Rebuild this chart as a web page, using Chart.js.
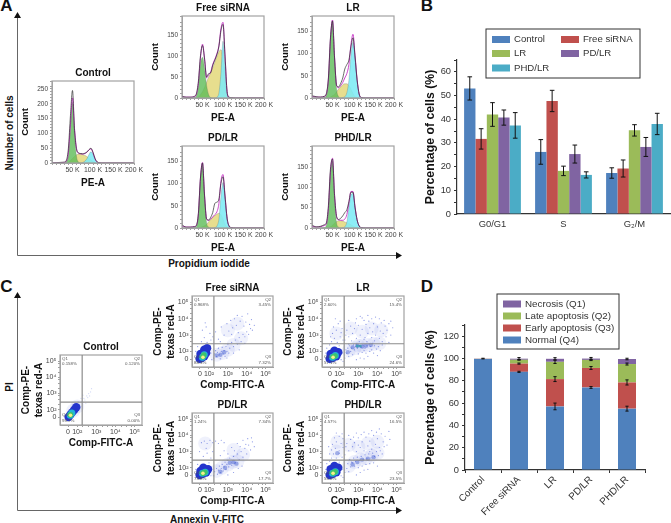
<!DOCTYPE html>
<html>
<head>
<meta charset="utf-8">
<style>
  html, body { margin: 0; padding: 0; background: #fff; }
  body { position: relative; width: 671px; height: 523px; overflow: hidden; font-family: "Liberation Sans", Arial, sans-serif; }
  canvas { position: absolute; }
  .lbl { position: absolute; transform: translate(-50%, -50%); white-space: nowrap; font-weight: bold; color: #111; }
  svg { position: absolute; left: 0; top: 0; }
</style>
<script src="https://cdn.jsdelivr.net/npm/chart.js@4"></script>
</head>
<body>
<svg width="671" height="523">
  <path d="M17.5 255.5V16M17.5 255.5H397" fill="none" stroke="#666" stroke-width="1"/>
  <path d="M17.5 12l-3.5 6h7zM402 255.5l-6-3.5v7z" fill="#111"/>
  <path d="M17.5 510.5V296M17.5 510.5H397" fill="none" stroke="#666" stroke-width="1"/>
  <path d="M17.5 292l-3.5 6h7zM402 510.5l-6-3.5v7z" fill="#111"/>
</svg>
<script>
// panel labels and the long axis captions
const captions = [
    ['A', 6.5, 6, 17, 0], ['B', 427, 6, 17, 0], ['C', 6.5, 287, 17, 0], ['D', 427, 287, 17, 0],
    ['Number of cells', 9, 133, 10, -90], ['Propidium iodide', 209, 263, 10, 0],
    ['PI', 8.5, 387, 10, -90], ['Annexin V-FITC', 207, 519, 10, 0]
];

// Cell cycle bars (panel B)
const cycleLabels = ['G0/G1', 'S', 'G\u2082/M'];
const cycleNames = ['Control', 'Free siRNA', 'LR', 'PD/LR', 'PHD/LR'];
const cycleControl = [53, 26.2, 17.3];
const cycleFree = [31.7, 47.7, 19.2];
const cycleLR = [42, 18.2, 35.3];
const cyclePD = [40.7, 25.3, 28.3];
const cyclePHD = [37.4, 16.5, 38];
const cycleControlErr = [4.9, 5.2, 2.2];
const cycleFreeErr = [4.3, 4.5, 3.6];
const cycleLRErr = [5, 2, 2.4];
const cyclePDErr = [3.2, 3.8, 4];
const cyclePHDErr = [5.4, 1.3, 4.5];

// Apoptosis stacks (panel D)
const apoLabels = ['Control', 'Free siRNA', 'LR', 'PD/LR', 'PHD/LR'];
const apoNormal = [99.5, 88, 57, 74, 55];
const apoEarly = [0.1, 7.4, 24.5, 17.5, 23.5];
const apoLate = [0.1, 3.4, 15.5, 7.2, 16.5];
const apoNecrosis = [0.2, 1, 2.7, 1.2, 4.5];
const apoNormalErr = [0, 0.5, 3, 0.8, 2.2];
const apoEarlyErr = [0, 0.5, 2.2, 1.3, 2.3];
const apoLateErr = [0, 0.3, 1.5, 0.6, 0.9];
const apoNecrosisErr = [0.3, 1, 1, 1, 0.7];

// Histograms (panel A): all series share this x grid, in thousands
const xGrid = [0,10,20,30,35,40,45,50,55,60,65,70,75,80,85,90,95,100,105,110,115,120,130,200];
const controlG1 = [0,0,0,0,4,30,120,205,90,20,3,0,0,0,0,0,0,0,0,0,0,0,0,0];
const controlS = [0,0,0,0,0,2,8,15,22,28,30,30,28,26,22,16,10,5,2,0,0,0,0,0];
const controlG2 = [0,0,0,0,0,0,0,0,0,0,0,0,2,6,14,28,38,30,12,3,0,0,0,0];
const controlFit = [0,1,1,2,6,35,130,220,115,48,33,31,30,32,36,44,48,35,14,3,1,0,0,0];
const controlRaw = [0,1,2,3,9,50,160,245,110,45,34,32,31,33,37,45,50,36,15,4,1,0,0,0];
const freeG1 = [0,0,0,1,5,30,80,97,70,30,8,1,0,0,0,0,0,0,0,0,0,0,0,0];
const freeS = [0,0,0,0,0,2,8,15,25,38,50,60,72,85,98,110,115,90,30,5,0,0,0,0];
const freeG2 = [0,0,0,0,0,0,0,0,0,0,0,0,0,0,2,12,60,135,70,10,1,0,0,0];
const freeFit = [3,2,2,3,8,35,95,128,95,48,55,62,80,92,105,125,165,180,100,15,1,0,0,0];
const freeRaw = [4,2,2,4,10,40,100,125,92,50,58,60,78,90,103,122,160,175,98,15,2,1,0,0];
const lrG1 = [0,0,0,1,6,40,130,172,90,20,3,0,0,0,0,0,0,0,0,0,0,0,0,0];
const lrS = [0,0,0,0,0,0,2,5,8,14,20,25,30,32,32,28,20,10,3,0,0,0,0,0];
const lrG2 = [0,0,0,0,0,0,0,0,0,0,0,0,1,3,12,40,95,125,90,40,8,1,0,0];
const lrFit = [4,2,2,3,8,42,132,175,92,28,23,28,35,45,55,75,120,143,95,42,9,1,0,0];
const lrRaw = [5,3,2,4,10,45,135,173,90,28,25,33,45,65,75,85,115,135,92,40,9,1,0,0];
const pdG1 = [0,0,0,1,3,30,110,145,70,12,2,0,0,0,0,0,0,0,0,0,0,0,0,0];
const pdS = [0,0,0,0,0,0,1,3,5,8,14,19,24,28,31,33,30,20,8,2,0,0,0,0];
const pdG2 = [0,0,0,0,0,0,0,0,0,0,0,0,0,1,4,20,70,102,65,20,4,0,0,0];
const pdFit = [5,2,2,3,5,32,112,147,74,20,17,20,25,30,36,55,105,120,72,22,4,1,0,0];
const pdRaw = [7,2,2,3,6,33,112,146,72,20,18,24,35,55,58,65,100,115,70,22,4,1,0,0];
const phdG1 = [0,0,0,1,6,45,135,165,70,12,2,0,0,0,0,0,0,0,0,0,0,0,0,0];
const phdS = [0,0,0,0,0,1,3,7,12,16,18,18,17,15,13,11,8,5,2,0,0,0,0,0];
const phdG2 = [0,0,0,0,0,0,0,0,0,0,0,0,1,3,15,50,82,85,50,20,5,1,0,0];
const phdFit = [5,2,3,6,10,48,138,172,82,28,20,19,19,22,33,62,90,90,52,20,5,1,0,0];
const phdRaw = [7,3,4,8,13,55,145,170,80,28,21,24,30,38,45,65,88,88,50,20,5,1,0,0];

// Flow plots (panel C): positions are in decades on the biexponential axes
const scatterTicks = [1.52,2,2.3,2.6,2.85,3,3.3,3.6,3.85,4,4.3,4.6,4.85,5];
const scatterTickLabels = ['0','10\u00b2','','','','10\u00b3','','','','10\u2074','','','','10\u2075'];
const gateX = 2.26, gateY = 2.47;

const controlQuad = ['0.158%', '0.120%', '0.00%', '99.7%'];
const freeQuad = ['0.968%', '3.45%', '7.32%', '88.3%'];
const lrQuad = ['2.60%', '15.4%', '24.6%', '57.1%'];
const pdQuad = ['1.24%', '7.34%', '17.7%', '73.8%'];
const phdQuad = ['4.57%', '16.5%', '23.5%', '55.0%'];

const controlCloud = [[2,2.2],[2.1,2.35],[2.2,2.2],[2.25,2.5],[2.3,2.45],[2.35,2.7],[2.4,2.6],[2.5,2.85],[2.55,2.75],[2.6,3],[2.7,3.1],[2.75,3.3],[2.15,2.05],[2.05,2.5],[2.3,2.9],[1.9,2.45],[2.45,2.4],[2.2,2.7],[2.65,2.85]];
const freeCloud = [[2.25,1.6],[2.3,1.85],[2.35,2.05],[2.4,1.7],[2.45,1.95],[2.5,2.2],[2.55,1.8],[2.6,1.55],[2.65,2],[2.7,2.25],[2.75,1.85],[2.8,2.05],[2.85,1.7],[2.9,2.3],[2.95,2],[3,2.45],[3.05,1.9],[3.1,2.2],[3.2,2.55],[3.3,2.3],[3.4,2.7],[3.5,2.45],[3.6,2.85],[3.7,2.6],[3.8,3.05],[3.9,2.9],[4,3.2],[4.1,3.05],[4.2,3.4],[4.3,3.3],[2.2,2.9],[2.35,3.2],[2.5,2.75],[2.65,3.5],[2.8,3],[2.95,3.7],[3.05,3.25],[3.15,3.9],[3.25,3.45],[3.35,4],[3.45,3.6],[3.5,4.2],[3.55,3.15],[3.65,3.85],[3.75,4.15],[3.85,3.55],[3.95,3.8],[4.05,4.3],[4.15,3.65],[4.25,3.95],[4.4,3.6],[3.2,3.05],[2.6,2.6],[1.6,2.6],[1.75,2.85],[1.9,2.55],[2.05,3.1],[1.65,3.3],[1.85,3.5],[2.1,2.7],[1.8,3.75],[2.15,1.5],[2.1,1.9],[1.3,2],[1.4,2.3],[2.05,2.3],[3.3,1.9],[3.6,2.1],[2.95,1.6],[3.9,2.5]];
const lrCloud = [[2.3,1.6],[2.4,1.9],[2.5,1.7],[2.6,2],[2.7,1.8],[2.8,2.1],[2.45,2.2],[2.55,2.35],[2.65,2.2],[2.75,2.4],[2.85,2.3],[2.95,2.2],[3.05,2.35],[3.15,2.25],[3.25,2.4],[3.35,2.2],[3.45,2.35],[3.55,2.45],[3.65,2.3],[3.75,2.5],[3.85,2.35],[3.95,2.15],[4.05,2.3],[4.15,2.05],[4.25,2.4],[3,1.85],[3.2,1.95],[3.4,1.9],[3.6,2],[3.8,1.9],[3.1,1.6],[3.3,1.55],[3.5,1.7],[2.9,1.5],[4,1.75],[2.35,2.1],[2.5,2.45],[2.9,2.45],[3.3,2.05],[3.7,2.1],[2.3,2.7],[2.5,2.9],[2.7,3.1],[2.9,2.8],[3.1,3],[3.3,2.75],[3.5,3.1],[3.7,2.85],[3.9,3],[4.1,2.8],[4.3,3.1],[4.5,3.3],[4.7,3],[2.4,3.3],[2.6,3.55],[2.8,3.4],[3,3.6],[3.2,3.35],[3.4,3.65],[3.6,3.45],[3.8,3.7],[4,3.5],[4.2,3.75],[4.4,3.55],[4.6,3.7],[4.8,3.45],[2.5,3.9],[2.9,4],[3.1,4.15],[3.3,3.9],[3.5,4.2],[3.7,4],[3.9,4.1],[4.1,4],[2.35,3],[2.65,2.65],[3.05,2.6],[3.45,2.6],[3.85,2.65],[4.25,2.6],[4.6,2.55],[1.6,2.6],[1.75,2.8],[1.9,2.55],[2.05,2.9],[1.65,3.1],[1.85,3.3],[2.1,3.15],[1.7,3.5],[1.95,3.7],[2.15,3.4],[1.8,4],[2.05,3.85],[1.55,2.9],[2.2,2.7],[2.1,1.5],[2.15,1.9],[2.2,1.4],[2,2.35],[1.3,1.9],[1.35,2.2],[1.5,2.4],[3.35,2.85],[3.75,3.2],[4.15,3.25],[4.45,2.9],[2.85,3.75],[3.2,4.05],[3.55,3.85],[4.35,3.9],[4.7,3.85]];
const pdCloud = [[2.25,1.5],[2.3,1.75],[2.4,1.95],[2.45,1.6],[2.5,1.85],[2.55,2.1],[2.6,1.7],[2.65,1.95],[2.7,2.2],[2.75,1.8],[2.8,2.05],[2.85,2.35],[2.9,1.9],[2.95,2.2],[3,2.45],[3.05,2.05],[3.1,2.6],[3.2,2.15],[3.3,2.7],[3.4,2.3],[3.5,2.85],[3.6,2.5],[3.7,3],[3.8,2.65],[3.9,3.2],[4,2.85],[4.1,3.4],[4.2,3.1],[4.3,3.6],[4.4,3.3],[3.55,1.95],[3.75,2.1],[3.3,1.7],[3,1.55],[2.6,2.75],[2.8,3.05],[3,2.85],[3.2,3.25],[3.35,3.05],[3.5,3.5],[3.65,3.3],[3.8,3.7],[3.95,3.45],[4.05,3.8],[4.25,3.85],[1.6,3.55],[1.75,3.65],[1.9,3.5],[2.05,3.7],[2.2,3.55],[2.35,3.65],[2.5,3.5],[2.65,3.7],[2.8,3.55],[1.7,2.7],[1.9,2.9],[2.1,2.6],[2.2,3],[1.5,3],[1.85,3.2],[2.1,1.5],[2.1,1.95],[1.3,1.9],[1.4,2.2],[2,2.3]];
const phdCloud = [[2.3,1.7],[2.4,1.95],[2.5,1.75],[2.6,2.05],[2.7,2.3],[2.8,2.1],[2.45,2.25],[2.55,2.5],[2.65,2.35],[2.75,2.6],[2.85,2.4],[2.95,2.65],[3.05,2.45],[3.15,2.7],[3.25,2.5],[3.35,2.8],[3.45,2.55],[3.55,2.85],[3.65,2.6],[3.75,2.9],[3.85,2.7],[3.95,3],[4.05,2.75],[4.15,3.05],[4.25,2.85],[3,2],[3.2,2.1],[3.4,2.2],[3.6,2.25],[3.8,2.3],[3.1,1.7],[3.3,1.85],[3.5,1.9],[2.9,1.55],[4,2.1],[2.3,2.8],[2.5,3.05],[2.7,3.3],[2.9,3],[3.1,3.25],[3.3,3.05],[3.5,3.35],[3.7,3.15],[3.9,3.45],[4.1,3.25],[4.3,3.6],[4.5,3.4],[4.65,3.75],[2.4,3.5],[2.6,3.75],[2.8,3.55],[3,3.85],[3.2,3.6],[3.4,3.9],[3.6,3.65],[3.8,4],[4,3.8],[4.2,4.1],[4.4,3.95],[4.6,4.25],[2.5,4],[2.9,4.15],[3.3,4.2],[3.7,4.3],[4.1,4.4],[1.6,2.6],[1.7,2.85],[1.85,2.6],[2,2.9],[2.15,2.65],[1.6,3.1],[1.8,3.2],[2,3.05],[2.2,3.25],[1.65,3.45],[1.85,3.6],[2.1,3.5],[1.75,3.85],[2,3.95],[2.2,3.8],[1.85,4.15],[2.15,4.1],[1.5,2.85],[1.45,3.3],[2.1,1.5],[2.15,1.9],[2.2,1.4],[2,2.35],[1.3,1.9],[1.35,2.25],[1.5,2.4],[2.35,3.3],[2.75,3.9],[3.15,4.05],[3.55,4.1],[3.95,4.2],[4.35,3.3],[3.6,3],[3,3.4]];

// soft blue haze under the dots where cells crowd together
const controlHaze = [[1.8,1.95],[2,2.2]];
const freeHaze = [[2.4,1.8],[2.7,1.9],[3,2.1],[3.3,2.4],[3.7,2.8],[3,3.3],[3.5,3.7]];
const lrHaze = [[2.5,2.05],[2.8,2.2],[3,2.35],[3.2,2.35],[3.5,2.4],[3.8,2.45],[4.1,2.5],[3.2,3.2],[3.7,3.4],[4.2,3.3],[2.6,3.4],[1.85,3.1]];
const pdHaze = [[2.4,1.8],[2.7,2],[3,2.2],[3.25,2.35],[3.5,2.4],[3.8,2.8],[3.3,3.1],[1.8,3.5]];
const phdHaze = [[2.5,2.1],[2.8,2.35],[3.1,2.5],[3.4,2.6],[3.7,2.75],[4,2.9],[3,3.3],[3.5,3.5],[4,3.6],[2.5,3.4],[1.85,3],[1.9,3.6]];

// denser second population along the lower band
const controlBand = [];
const freeBand = [[2.4,1.75],[2.6,1.8],[2.8,1.95]];
const lrBand = [[2.7,2.25],[2.95,2.35],[3.2,2.3],[3.4,2.35],[3.65,2.4],[2.45,1.95]];
const pdBand = [[2.6,1.75],[3.1,2.3],[3.3,2.35],[3.45,2.25],[2.85,2]];
const phdBand = [[2.7,2.2],[3.2,2.5],[3.5,2.55],[3.8,2.65],[2.95,2.35],[1.9,2.9]];
const controlBandMid = [];
const freeBandMid = [];
const lrBandMid = [[2.95,2.33],[3.1,2.33]];
const pdBandMid = [];
const phdBandMid = [];

// density core of the main population, one list per colour band
const controlCore = { blue: [[1.55,1.55],[1.65,1.7],[1.75,1.85],[1.85,2],[1.95,2.15]], cyan: [[1.63,1.65],[1.72,1.8]], green: [[1.65,1.68]], yellow: [[1.65,1.65]] };
const freeCore = { blue: [[1.5,1.55],[1.62,1.6],[1.75,1.7],[1.85,1.9],[1.75,2.1],[1.9,2.2],[1.55,1.85]], cyan: [[1.65,1.65],[1.75,1.8]], green: [[1.68,1.68],[1.72,1.78]], yellow: [[1.68,1.65]] };
const lrCore = { blue: [[1.5,1.55],[1.65,1.6],[1.85,1.7],[1.95,1.95],[1.75,2.05],[1.55,1.85]], cyan: [[1.65,1.65],[1.8,1.75]], green: [[1.68,1.68],[1.78,1.72]], yellow: [[1.68,1.65]] };
const pdCore = { blue: [[1.5,1.55],[1.65,1.6],[1.85,1.7],[1.95,1.9],[1.7,2],[1.55,1.8]], cyan: [[1.65,1.65],[1.8,1.72]], green: [[1.68,1.66],[1.78,1.72]], yellow: [[1.68,1.65]] };
const phdCore = { blue: [[1.5,1.55],[1.65,1.6],[1.85,1.72],[1.95,2],[1.75,2.1],[1.55,1.9]], cyan: [[1.65,1.65],[1.8,1.75]], green: [[1.68,1.68],[1.78,1.74]], yellow: [[1.68,1.65]] };

Chart.defaults.font.family = '"Liberation Sans", Arial, sans-serif';
Chart.defaults.animation = false;
Chart.defaults.responsive = false;
Chart.defaults.maintainAspectRatio = false;

captions.forEach(c => {
    const d = document.createElement('div');
    d.className = 'lbl';
    d.textContent = c[0];
    d.style.left = c[1] + 'px';
    d.style.top = c[2] + 'px';
    d.style.fontSize = c[3] + 'px';
    if (c[4]) d.style.transform = 'translate(-50%, -50%) rotate(' + c[4] + 'deg)';
    document.body.appendChild(d);
});

function addCanvas(left, top, width, height) {
    const cv = document.createElement('canvas');
    cv.width = width;
    cv.height = height;
    cv.style.left = left + 'px';
    cv.style.top = top + 'px';
    cv.style.width = width + 'px';
    cv.style.height = height + 'px';
    document.body.appendChild(cv);
    return cv;
}

// grey frame round the small cytometer plots
const framePlugin = {
    id: 'frame',
    afterDraw(chart) {
        const a = chart.chartArea, ctx = chart.ctx;
        ctx.save();
        ctx.strokeStyle = '#a2a2a2';
        ctx.lineWidth = 1.2;
        ctx.strokeRect(a.left, a.top, a.right - a.left, a.bottom - a.top);
        ctx.restore();
    }
};

function histogram(box, title, yMax, g1, s, g2, fit, raw) {
    const [x0, y0, x1, y1] = box;
    const ml = 32, mr = 13, mt = 14, mb = 26;
    const cv = addCanvas(x0 - ml, y0 - mt, x1 - x0 + ml + mr, y1 - y0 + mt + mb);
    const points = vals => xGrid.map((x, i) => ({ x: x, y: vals[i] }));
    const line = (vals, colour, width) => ({
        data: points(vals), borderColor: colour, borderWidth: width, pointRadius: 0,
        cubicInterpolationMode: 'monotone', fill: false
    });
    const area = (vals, colour) => ({
        data: points(vals), borderColor: 'rgba(90,90,90,0.5)', borderWidth: 0.5, pointRadius: 0,
        backgroundColor: colour, cubicInterpolationMode: 'monotone', fill: 'origin'
    });
    new Chart(cv, {
        type: 'line',
        data: {
            datasets: [
                line(raw, '#2b2b2b', 0.7),
                line(fit, '#c42fc4', 0.9),
                area(g1, 'rgba(92,188,88,0.8)'),
                area(g2, 'rgba(125,235,245,0.88)'),
                area(s, 'rgba(228,218,130,0.9)')
            ]
        },
        options: {
            layout: { padding: { right: mr } },
            plugins: {
                legend: { display: false },
                tooltip: { enabled: false },
                title: {
                    display: true, text: title, color: '#111', fullSize: false,
                    font: { size: 10, weight: 'bold', lineHeight: 1.2 },
                    padding: { top: 0, bottom: 2 }
                }
            },
            scales: {
                x: {
                    type: 'linear', min: 0, max: 200,
                    afterFit: sc => { sc.height = mb; },
                    grid: { drawOnChartArea: false, tickLength: 2, color: '#777', tickWidth: 0.7 },
                    border: { color: '#a2a2a2' },
                    ticks: {
                        stepSize: 10, autoSkip: false, maxRotation: 0, padding: 1, color: '#444', font: { size: 6.9 },
                        callback: v => (v > 0 && v % 50 === 0 ? v + ' K' : '')
                    },
                    title: { display: true, text: 'PE-A', color: '#111', padding: 0, font: { size: 10, weight: 'bold', lineHeight: 1.2 } }
                },
                y: {
                    min: 0, max: yMax,
                    afterFit: sc => { sc.width = ml; },
                    grid: { drawOnChartArea: false, tickLength: 2, color: '#777', tickWidth: 0.7 },
                    border: { color: '#a2a2a2' },
                    ticks: {
                        stepSize: 10, autoSkip: false, padding: 2, color: '#444', font: { size: 6.5 },
                        callback: v => (v % 50 === 0 ? v : '')
                    },
                    title: { display: true, text: 'Count', color: '#111', padding: 0, font: { size: 9.6, weight: 'bold', lineHeight: 1.2 } }
                }
            }
        },
        plugins: [framePlugin]
    });
}

// gate lines and the tiny quadrant captions
const gatePlugin = {
    id: 'gates',
    afterDraw(chart, args, opts) {
        const a = chart.chartArea, ctx = chart.ctx;
        const gx = chart.scales.x.getPixelForValue(gateX), gy = chart.scales.y.getPixelForValue(gateY);
        ctx.save();
        ctx.strokeStyle = '#8c8c8c';
        ctx.lineWidth = 1.2;
        ctx.beginPath();
        ctx.moveTo(gx, a.top); ctx.lineTo(gx, a.bottom);
        ctx.moveTo(a.left, gy); ctx.lineTo(a.right, gy);
        ctx.stroke();
        ctx.fillStyle = '#555';
        ctx.font = '4.4px "Liberation Sans"';
        const q = opts.quad;
        ctx.textBaseline = 'top';
        ctx.textAlign = 'left';
        ctx.fillText('Q1', a.left + 2, a.top + 2);
        ctx.fillText(q[0], a.left + 2, a.top + 7);
        ctx.fillText('Q4', a.left + 2, a.bottom - 12);
        ctx.fillText(q[3], a.left + 2, a.bottom - 6);
        ctx.textAlign = 'right';
        ctx.fillText('Q2', a.right - 2, a.top + 2);
        ctx.fillText(q[1], a.right - 2, a.top + 7);
        ctx.fillText('Q3', a.right - 2, a.bottom - 12);
        ctx.fillText(q[2], a.right - 2, a.bottom - 6);
        ctx.restore();
    }
};

function flowPlot(box, title, quad, cloud, haze, band, bandMid, core, dotColour) {
    const [x0, y0, x1, y1] = box;
    const ml = 40, mr = 6, mt = 14, mb = 24;
    const cv = addCanvas(x0 - ml, y0 - mt, x1 - x0 + ml + mr, y1 - y0 + mt + mb);
    const pts = list => list.map(p => ({ x: p[0], y: p[1] }));
    const layer = (list, colour, radius) => ({
        data: pts(list), backgroundColor: colour, borderWidth: 0, pointRadius: radius, pointHoverRadius: radius
    });
    new Chart(cv, {
        type: 'scatter',
        data: {
            datasets: [
                layer(core.yellow, '#f6f08a', 1.8),
                layer(core.green, '#3fc46a', 2.8),
                layer(core.cyan, '#22b6d6', 3.5),
                layer(core.blue, '#2434cc', 4.2),
                layer(cloud, dotColour, 0.6),
                layer(bandMid, 'rgba(40,160,170,0.75)', 1.5),
                layer(band, 'rgba(40,70,200,0.4)', 2.2),
                layer(haze, 'rgba(96,120,226,0.1)', 7)
            ]
        },
        options: {
            layout: { padding: { right: mr } },
            plugins: {
                legend: { display: false },
                tooltip: { enabled: false },
                title: {
                    display: true, text: title, color: '#111', fullSize: false,
                    font: { size: 10, weight: 'bold', lineHeight: 1.2 },
                    padding: { top: 0, bottom: 2 }
                },
                gates: { quad: quad }
            },
            scales: {
                x: {
                    type: 'linear', min: 1.1, max: 5.39,
                    afterBuildTicks: sc => { sc.ticks = scatterTicks.map(v => ({ value: v })); },
                    afterFit: sc => { sc.height = mb; },
                    grid: { drawOnChartArea: false, tickLength: 2, color: '#777', tickWidth: 0.7 },
                    border: { color: '#a2a2a2' },
                    ticks: {
                        autoSkip: false, maxRotation: 0, padding: 1, color: '#444', font: { size: 7 },
                        callback: (v, i) => scatterTickLabels[i]
                    },
                    title: { display: true, text: 'Comp-FITC-A', color: '#111', padding: 0, font: { size: 10, weight: 'bold', lineHeight: 1.25 } }
                },
                y: {
                    type: 'linear', min: 1.05, max: 5.39,
                    afterBuildTicks: sc => { sc.ticks = scatterTicks.map(v => ({ value: v })); },
                    afterFit: sc => { sc.width = ml; },
                    grid: { drawOnChartArea: false, tickLength: 2, color: '#777', tickWidth: 0.7 },
                    border: { color: '#a2a2a2' },
                    ticks: {
                        autoSkip: false, padding: 1.5, color: '#444', font: { size: 7 },
                        callback: (v, i) => scatterTickLabels[i]
                    },
                    title: { display: true, text: ['Comp-PE-', 'texas red-A'], color: '#111', padding: 0, font: { size: 10, weight: 'bold', lineHeight: 1.25 } }
                }
            }
        },
        plugins: [framePlugin, gatePlugin]
    });
}

histogram([52, 81, 134, 163], 'Control', 277, controlG1, controlS, controlG2, controlFit, controlRaw);
histogram([182, 16, 264, 98], 'Free siRNA', 195, freeG1, freeS, freeG2, freeFit, freeRaw);
histogram([312, 16, 394, 98], 'LR', 184, lrG1, lrS, lrG2, lrFit, lrRaw);
histogram([182, 146, 264, 228], 'PD/LR', 184, pdG1, pdS, pdG2, pdFit, pdRaw);
histogram([312, 146, 394, 228], 'PHD/LR', 202, phdG1, phdS, phdG2, phdFit, phdRaw);

const denseDots = 'rgba(62,84,214,0.6)', faintDots = 'rgba(120,140,225,0.35)';
flowPlot([60, 355, 143, 425], 'Control', controlQuad, controlCloud, controlHaze, controlBand, controlBandMid, controlCore, faintDots);
flowPlot([192, 296, 274, 367], 'Free siRNA', freeQuad, freeCloud, freeHaze, freeBand, freeBandMid, freeCore, denseDots);
flowPlot([322, 296, 405, 367], 'LR', lrQuad, lrCloud, lrHaze, lrBand, lrBandMid, lrCore, denseDots);
flowPlot([192, 413, 274, 483], 'PD/LR', pdQuad, pdCloud, pdHaze, pdBand, pdBandMid, pdCore, denseDots);
flowPlot([322, 413, 405, 483], 'PHD/LR', phdQuad, phdCloud, phdHaze, phdBand, phdBandMid, phdCore, denseDots);

// error bars: dataset.err holds the half height of each whisker
const errorPlugin = {
    id: 'errors',
    afterDatasetsDraw(chart, args, opts) {
        const ctx = chart.ctx, y = chart.scales.y;
        ctx.save();
        ctx.strokeStyle = '#111';
        ctx.lineWidth = 1;
        chart.data.datasets.forEach((ds, i) => {
            chart.getDatasetMeta(i).data.forEach((bar, j) => {
                const e = ds.err[j];
                if (!e) return;
                const h = y.getPixelForValue(0) - y.getPixelForValue(e);
                ctx.beginPath();
                ctx.moveTo(bar.x, bar.y - h); ctx.lineTo(bar.x, bar.y + h);
                ctx.moveTo(bar.x - opts.cap, bar.y - h); ctx.lineTo(bar.x + opts.cap, bar.y - h);
                ctx.moveTo(bar.x - opts.cap, bar.y + h); ctx.lineTo(bar.x + opts.cap, bar.y + h);
                ctx.stroke();
            });
        });
        ctx.restore();
    }
};

// boxed legend placed inside the axes, coordinates are page pixels
const boxLegendPlugin = {
    id: 'boxLegend',
    afterDraw(chart, args, o) {
        const ctx = chart.ctx;
        const ox = parseFloat(chart.canvas.style.left), oy = parseFloat(chart.canvas.style.top);
        ctx.save();
        ctx.strokeStyle = '#333';
        ctx.lineWidth = 1;
        ctx.strokeRect(o.box[0] - ox, o.box[1] - oy, o.box[2], o.box[3]);
        ctx.font = o.size + 'px "Liberation Sans"';
        ctx.textBaseline = 'middle';
        o.items.forEach(it => {
            const ds = chart.data.datasets[it[0]];
            ctx.fillStyle = ds.backgroundColor;
            ctx.fillRect(it[1] - ox, it[2] - 3.5 - oy, 18, 7);
            ctx.fillStyle = '#333';
            ctx.fillText(ds.label, it[1] + 22 - ox, it[2] - oy);
        });
        ctx.restore();
    }
};

const blue = '#4f81bd', red = '#c0504d', green = '#9bbb59', purple = '#8064a2', teal = '#4bacc6';

function valueAxis(ml, yMax, step, labelEvery) {
    return {
        min: 0, max: yMax,
        afterFit: sc => { sc.width = ml; },
        grid: { drawOnChartArea: false, tickLength: 3, color: '#333' },
        border: { color: '#333', width: 1.2 },
        ticks: {
            stepSize: step, autoSkip: false, padding: 3, color: '#333', font: { size: 9.3 },
            callback: v => (v % labelEvery === 0 ? v : '')
        },
        title: { display: true, text: 'Percentage of cells (%)', color: '#111', padding: 0, font: { size: 12.3, weight: 'bold', lineHeight: 1.2 } }
    };
}

const cycleSeries = [cycleControl, cycleFree, cycleLR, cyclePD, cyclePHD];
const cycleErrors = [cycleControlErr, cycleFreeErr, cycleLRErr, cyclePDErr, cyclePHDErr];
const cycleColours = [blue, red, green, purple, teal];

new Chart(addCanvas(423, 25, 248, 205), {
    type: 'bar',
    data: {
        labels: cycleLabels,
        datasets: cycleNames.map((n, i) => ({ label: n, data: cycleSeries[i], err: cycleErrors[i], backgroundColor: cycleColours[i] }))
    },
    options: {
        layout: { padding: { top: 35, right: 1 } },
        categoryPercentage: 0.8,
        barPercentage: 1,
        plugins: {
            legend: { display: false },
            tooltip: { enabled: false },
            errors: { cap: 2.3 },
            boxLegend: {
                size: 9.6,
                box: [486, 29, 154, 49],
                items: [[0, 492, 39.5], [1, 561, 39.5], [2, 492, 53.5], [3, 561, 53.5], [4, 492, 68]]
            }
        },
        scales: {
            x: {
                afterFit: sc => { sc.height = 16; },
                grid: { drawOnChartArea: false, drawTicks: false, tickLength: 0 },
                border: { color: '#333', width: 1.2 },
                ticks: { padding: 5, color: '#333', font: { size: 9.4 } }
            },
            y: valueAxis(34, 65, 5, 10)
        }
    },
    plugins: [errorPlugin, boxLegendPlugin]
});

new Chart(addCanvas(423, 290, 227, 233), {
    type: 'bar',
    data: {
        labels: apoLabels,
        datasets: [
            { label: 'Normal (Q4)', data: apoNormal, err: apoNormalErr, backgroundColor: blue },
            { label: 'Early apoptosis (Q3)', data: apoEarly, err: apoEarlyErr, backgroundColor: red },
            { label: 'Late apoptosis (Q2)', data: apoLate, err: apoLateErr, backgroundColor: green },
            { label: 'Necrosis (Q1)', data: apoNecrosis, err: apoNecrosisErr, backgroundColor: purple }
        ]
    },
    options: {
        layout: { padding: { top: 35, right: 5 } },
        categoryPercentage: 1,
        barPercentage: 0.5,
        plugins: {
            legend: { display: false },
            tooltip: { enabled: false },
            errors: { cap: 1.6 },
            boxLegend: {
                size: 9.8,
                box: [497, 294, 122, 55],
                items: [[3, 503, 304], [2, 503, 316], [1, 503, 328], [0, 503, 340]]
            }
        },
        scales: {
            x: {
                stacked: true,
                afterFit: sc => { sc.height = 53; },
                grid: { drawOnChartArea: false, tickLength: 3, color: '#333' },
                border: { color: '#333', width: 1.2 },
                ticks: { minRotation: 45, maxRotation: 45, padding: 1, color: '#333', font: { size: 9.8 } }
            },
            y: Object.assign(valueAxis(42, 130, 10, 20), { stacked: true })
        }
    },
    plugins: [errorPlugin, boxLegendPlugin]
});
</script>
</body>
</html>
